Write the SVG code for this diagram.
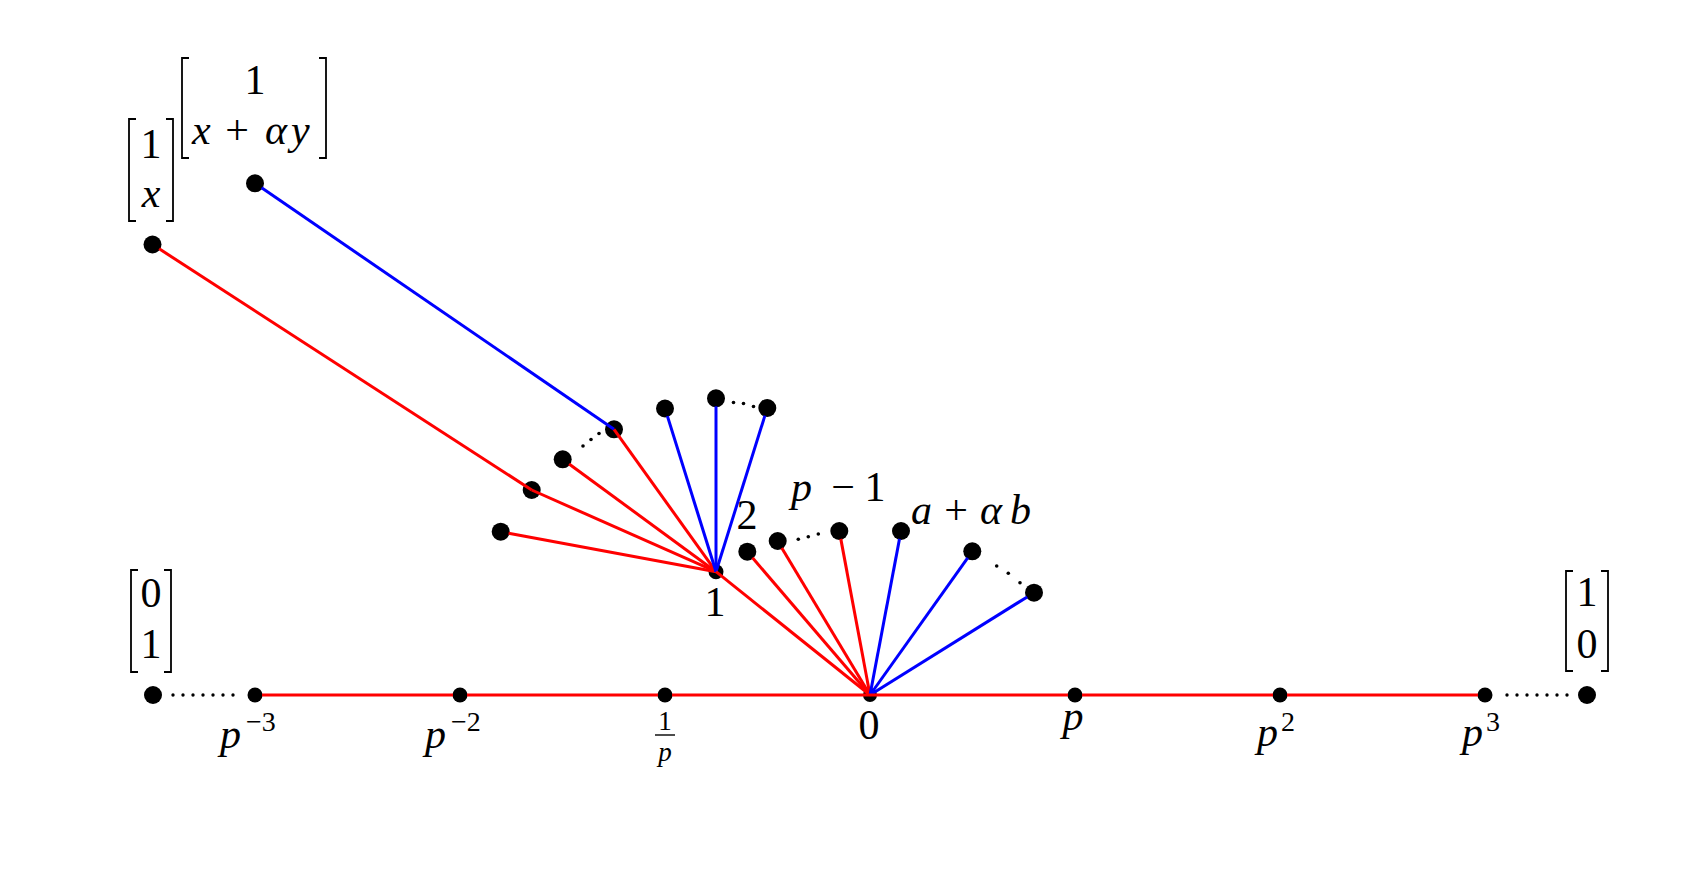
<svg xmlns="http://www.w3.org/2000/svg" width="1696" height="894" viewBox="0 0 1696 894">
<style>
.t{font-family:"Liberation Serif","Times New Roman",serif;font-size:42px;fill:#000}
.i{font-style:italic}
.s{font-size:28px}
.f{font-size:27px}
.d{fill:#000}
.br{fill:none;stroke:#000;stroke-width:1.8}
.r{stroke:#ff0000;stroke-width:3;fill:none}
.b{stroke:#0000ff;stroke-width:3;fill:none}
.dots{stroke:#000;stroke-width:3.4;stroke-linecap:round;stroke-dasharray:0 10;fill:none}
.sd{fill:#000}
</style>
<rect width="1696" height="894" fill="#fff"/>
<g id="nodes">
  <g id="node-1x">
    <circle class="d" cx="152.5" cy="244.5" r="9"/>
    <path class="br" d="M136,119 H129 V221 H136 M166,119 H173 V221 H166"/>
    <text class="t" x="151" y="158" text-anchor="middle">1</text>
    <text class="t i" x="151" y="207" text-anchor="middle">x</text>
  </g>
  <g id="node-1xay">
    <circle class="d" cx="255" cy="183.3" r="9"/>
    <path class="br" d="M189,58 H182 V158 H189 M319,58 H326 V158 H319"/>
    <text class="t" x="255" y="94" text-anchor="middle">1</text>
    <text class="t i" x="192" y="144">x</text>
    <text class="t" x="237" y="144" text-anchor="middle">+</text>
    <text class="t i" x="265" y="144">α</text>
    <text class="t i" x="291" y="144">y</text>
  </g>
  <g id="node-a"><circle class="d" cx="531.7" cy="490" r="9"/></g>
  <g id="node-b"><circle class="d" cx="500.7" cy="531.7" r="9"/></g>
  <g id="node-c"><circle class="d" cx="562.7" cy="459.3" r="9"/></g>
  <g id="node-d"><circle class="d" cx="614" cy="429.3" r="9"/></g>
  <g id="node-e"><circle class="d" cx="665" cy="408.5" r="9"/></g>
  <g id="node-f"><circle class="d" cx="716" cy="398.3" r="9"/></g>
  <g id="node-g"><circle class="d" cx="767.3" cy="408" r="9"/></g>
  <g id="node-hub1">
    <circle class="d" cx="716" cy="571.7" r="7.5"/>
    <text class="t" x="715" y="616" text-anchor="middle">1</text>
  </g>
  <g id="node-2">
    <circle class="d" cx="747.3" cy="551.7" r="9"/>
    <text class="t" x="747" y="529" text-anchor="middle">2</text>
  </g>
  <g id="node-3"><circle class="d" cx="777.7" cy="541" r="9"/></g>
  <g id="node-pm1">
    <circle class="d" cx="839.3" cy="531" r="9"/>
    <text class="t i" x="791" y="501">p</text>
    <text class="t" x="843" y="501" text-anchor="middle">−</text>
    <text class="t" x="875" y="501" text-anchor="middle">1</text>
  </g>
  <g id="node-ab">
    <circle class="d" cx="901" cy="531" r="9"/>
    <text class="t i" x="911" y="524">a</text>
    <text class="t" x="956" y="524" text-anchor="middle">+</text>
    <text class="t i" x="980" y="524">α</text>
    <text class="t i" x="1010" y="524">b</text>
  </g>
  <g id="node-h"><circle class="d" cx="972.3" cy="551.3" r="9"/></g>
  <g id="node-i"><circle class="d" cx="1034" cy="592.7" r="9"/></g>
  <g id="node-hub0">
    <circle class="d" cx="870" cy="695" r="7"/>
    <text class="t" x="869" y="739" text-anchor="middle">0</text>
  </g>
  <g id="node-01">
    <circle class="d" cx="153" cy="695" r="9"/>
    <path class="br" d="M138,570 H131 V672 H138 M164,570 H171 V672 H164"/>
    <text class="t" x="151" y="607" text-anchor="middle">0</text>
    <text class="t" x="151" y="658" text-anchor="middle">1</text>
  </g>
  <g id="node-pm3">
    <circle class="d" cx="255" cy="695" r="7.5"/>
    <text class="t i" x="220" y="748">p</text>
    <text class="t s" x="246" y="731">−3</text>
  </g>
  <g id="node-pm2">
    <circle class="d" cx="460" cy="695" r="7.5"/>
    <text class="t i" x="425" y="748">p</text>
    <text class="t s" x="451" y="731">−2</text>
  </g>
  <g id="node-inv">
    <circle class="d" cx="665" cy="695" r="7.5"/>
    <text class="t f" x="665" y="730" text-anchor="middle">1</text>
    <path d="M655,735 H675" stroke="#000" stroke-width="1.4"/>
    <text class="t f i" x="665" y="761" text-anchor="middle">p</text>
  </g>
  <g id="node-p">
    <circle class="d" cx="1075" cy="695" r="7.5"/>
    <text class="t i" x="1073" y="730" text-anchor="middle">p</text>
  </g>
  <g id="node-p2">
    <circle class="d" cx="1280" cy="695" r="7.5"/>
    <text class="t i" x="1257" y="746">p</text>
    <text class="t s" x="1281" y="731">2</text>
  </g>
  <g id="node-p3">
    <circle class="d" cx="1485" cy="695" r="7.5"/>
    <text class="t i" x="1462" y="746">p</text>
    <text class="t s" x="1486" y="731">3</text>
  </g>
  <g id="node-10">
    <circle class="d" cx="1587" cy="695" r="9"/>
    <path class="br" d="M1573,571 H1566 V671 H1573 M1601,571 H1608 V671 H1601"/>
    <text class="t" x="1587" y="606" text-anchor="middle">1</text>
    <text class="t" x="1587" y="658" text-anchor="middle">0</text>
  </g>
</g>
<g id="connectors">
  <line class="r" x1="159.2" y1="248.8" x2="531.7" y2="490"/>
  <line class="b" x1="261.6" y1="187.8" x2="614" y2="429.3"/>
  <line class="r" x1="531.7" y1="490" x2="716" y2="571.7"/>
  <line class="r" x1="508.6" y1="533.2" x2="716" y2="571.7"/>
  <line class="r" x1="569.1" y1="464" x2="716" y2="571.7"/>
  <line class="r" x1="614" y1="429.3" x2="716" y2="571.7"/>
  <line class="b" x1="667.4" y1="416.1" x2="716" y2="571.7"/>
  <line class="b" x1="716" y1="406.3" x2="716" y2="571.7"/>
  <line class="b" x1="764.9" y1="415.6" x2="716" y2="571.7"/>
  <line class="r" x1="716" y1="571.7" x2="870" y2="695"/>
  <line class="r" x1="752.5" y1="557.8" x2="870" y2="695"/>
  <line class="r" x1="781.8" y1="547.9" x2="870" y2="695"/>
  <line class="r" x1="840.8" y1="538.9" x2="870" y2="695"/>
  <line class="b" x1="899.5" y1="538.9" x2="870" y2="695"/>
  <line class="b" x1="967.7" y1="557.8" x2="870" y2="695"/>
  <line class="b" x1="1027.2" y1="596.9" x2="870" y2="695"/>
  <path class="r" d="M262,695 H453 M467,695 H658 M672,695 H1068 M1082,695 H1273 M1287,695 H1478"/>
  <path class="dots" d="M173,695 H234 M1507,695 H1568"/>
  <circle class="sd" cx="583" cy="446" r="1.8"/>
  <circle class="sd" cx="591" cy="439.5" r="1.8"/>
  <circle class="sd" cx="599" cy="433.5" r="1.8"/>
  <circle class="sd" cx="733.5" cy="402.5" r="1.8"/>
  <circle class="sd" cx="743.5" cy="403.5" r="1.8"/>
  <circle class="sd" cx="753.5" cy="406.5" r="1.8"/>
  <circle class="sd" cx="798.3" cy="539.3" r="1.8"/>
  <circle class="sd" cx="808.3" cy="536.7" r="1.8"/>
  <circle class="sd" cx="818.3" cy="534" r="1.8"/>
  <circle class="sd" cx="996.7" cy="566" r="1.8"/>
  <circle class="sd" cx="1008.3" cy="573.3" r="1.8"/>
  <circle class="sd" cx="1020" cy="582.7" r="1.8"/>
</g>
</svg>
